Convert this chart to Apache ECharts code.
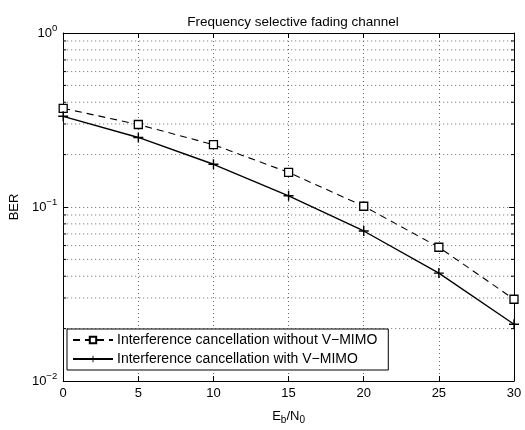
<!DOCTYPE html>
<html>
<head>
<meta charset="utf-8">
<script src="https://cdn.jsdelivr.net/npm/echarts@6/dist/echarts.min.js"></script>
<style>
html,body{margin:0;padding:0;background:#fff;}
#chart{width:525px;height:430px;}
</style>
</head>
<body>
<div id="chart"></div>
<script>
var xValues = [0, 5, 10, 15, 20, 25, 30];
var berWithout = [0.369, 0.298, 0.228, 0.158, 0.101, 0.0587, 0.0295];
var berWith = [0.332, 0.251, 0.176, 0.116, 0.0728, 0.0417, 0.0212];
var seriesNames = ['Interference cancellation without V\u2212MIMO', 'Interference cancellation with V\u2212MIMO'];
var yMinor = [0.02, 0.03, 0.04, 0.05, 0.06, 0.07, 0.08, 0.09, 0.2, 0.3, 0.4, 0.5, 0.6, 0.7, 0.8, 0.9];
var titleText = 'Frequency selective fading channel';

var FONT = 'Liberation Sans, Arial, sans-serif';
var chart = echarts.init(document.getElementById('chart'), null, {renderer: 'canvas'});

function pairs(xs, ys) { return xs.map(function (x, i) { return [x, ys[i]]; }); }

var plusPath = 'path://M4.3,0H5.7V4.3H10V5.7H5.7V10H4.3V5.7H0V4.3H4.3Z';

var gridDotted = {color: '#666', width: 1, type: [1, 3]};

var option = {
  animation: false,
  backgroundColor: '#fff',
  title: {
    text: titleText,
    left: 288, top: 10, textAlign: 'center',
    textStyle: {fontFamily: FONT, fontSize: 13.5, fontWeight: 'normal', color: '#000'}
  },
  grid: {left: 59, right: 11, top: 33, bottom: 38, show: false},
  legend: {
    orient: 'vertical',
    left: 67, top: 329,
    data: seriesNames,
    itemWidth: 40, itemHeight: 8, itemGap: 5,
    padding: [4, 11, 4, 5],
    backgroundColor: '#fff',
    borderColor: '#000', borderWidth: 1,
    textStyle: {fontFamily: FONT, fontSize: 14, color: '#000', padding: [0, 0, 0, -1]},
    selectedMode: false
  },
  xAxis: [{
    type: 'value', min: 0, max: 30, interval: 5,
    name: 'E{sub|b}/N{sub|0}', nameLocation: 'middle', nameGap: 26,
    nameTextStyle: {fontFamily: FONT, fontSize: 13, color: '#000',
      rich: {sub: {fontFamily: FONT, fontSize: 10, color: '#000', padding: [8, 0, 0, 0]}}},
    axisLine: {show: true, onZero: false, lineStyle: {color: '#000', width: 1}},
    axisTick: {show: true, inside: true, length: 5, lineStyle: {color: '#000'}},
    axisLabel: {fontFamily: FONT, fontSize: 13, color: '#000', margin: 6},
    splitLine: {show: true, lineStyle: gridDotted}
  }, {
    type: 'value', min: 0, max: 30, interval: 5, position: 'top',
    axisLine: {show: true, onZero: false, lineStyle: {color: '#000', width: 1}},
    axisTick: {show: true, inside: true, length: 5, lineStyle: {color: '#000'}},
    axisLabel: {show: false},
    splitLine: {show: false}
  }],
  yAxis: [{
    type: 'log', logBase: 10, min: 0.01, max: 1,
    name: 'BER', nameLocation: 'middle', nameGap: 38, nameRotate: 90,
    nameTextStyle: {fontFamily: FONT, fontSize: 13, color: '#000'},
    axisLine: {show: true, onZero: false, lineStyle: {color: '#000', width: 1}},
    axisTick: {show: true, inside: true, length: 5, lineStyle: {color: '#000'}},
    axisLabel: {
      fontFamily: FONT, fontSize: 13, color: '#000', margin: 6,
      formatter: function (v) {
        var e = Math.round(Math.log(v) / Math.LN10);
        return '10{e|' + (e < 0 ? '\u2212' + (-e) : e) + '}';
      },
      rich: {e: {fontFamily: FONT, fontSize: 9.5, color: '#000', padding: [0, 0, 10, 0]}}
    },
    splitLine: {show: true, lineStyle: gridDotted}
  }, {
    type: 'log', logBase: 10, min: 0.01, max: 1, position: 'right',
    axisLine: {show: true, onZero: false, lineStyle: {color: '#000', width: 1}},
    axisTick: {show: true, inside: true, length: 5, lineStyle: {color: '#000'}},
    axisLabel: {show: false},
    splitLine: {show: false}
  }],
  series: [{
    type: 'custom',
    name: 'minorGrid',
    silent: true,
    xAxisIndex: 0, yAxisIndex: 0,
    data: yMinor.map(function (v) { return [0, v]; }),
    encode: {x: 0, y: 1},
    z: 1,
    renderItem: function (params, api) {
      var v = api.value(1);
      var p0 = api.coord([0, v]);
      var p1 = api.coord([30, v]);
      return {
        type: 'group',
        children: [
          {type: 'line', shape: {x1: p0[0], y1: p0[1], x2: p1[0], y2: p1[1]},
            style: {stroke: '#666', lineWidth: 1, lineDash: [1, 3]}},
          {type: 'line', shape: {x1: p0[0], y1: p0[1], x2: p0[0] + 3, y2: p0[1]},
            style: {stroke: '#000', lineWidth: 1}},
          {type: 'line', shape: {x1: p1[0] - 3, y1: p1[1], x2: p1[0], y2: p1[1]},
            style: {stroke: '#000', lineWidth: 1}}
        ]
      };
    }
  }, {
    type: 'line',
    name: seriesNames[0],
    data: pairs(xValues, berWithout),
    symbol: 'rect', symbolSize: 8,
    lineStyle: {color: '#000', width: 1.1, type: [7, 5]},
    itemStyle: {color: '#fff', borderColor: '#000', borderWidth: 1.3},
    z: 5
  }, {
    type: 'line',
    name: seriesNames[1],
    data: pairs(xValues, berWith),
    symbol: plusPath, symbolSize: 10,
    lineStyle: {color: '#000', width: 1.4, type: 'solid'},
    itemStyle: {color: '#000', borderWidth: 0},
    z: 5
  }]
};
chart.setOption(option);
</script>
</body>
</html>
